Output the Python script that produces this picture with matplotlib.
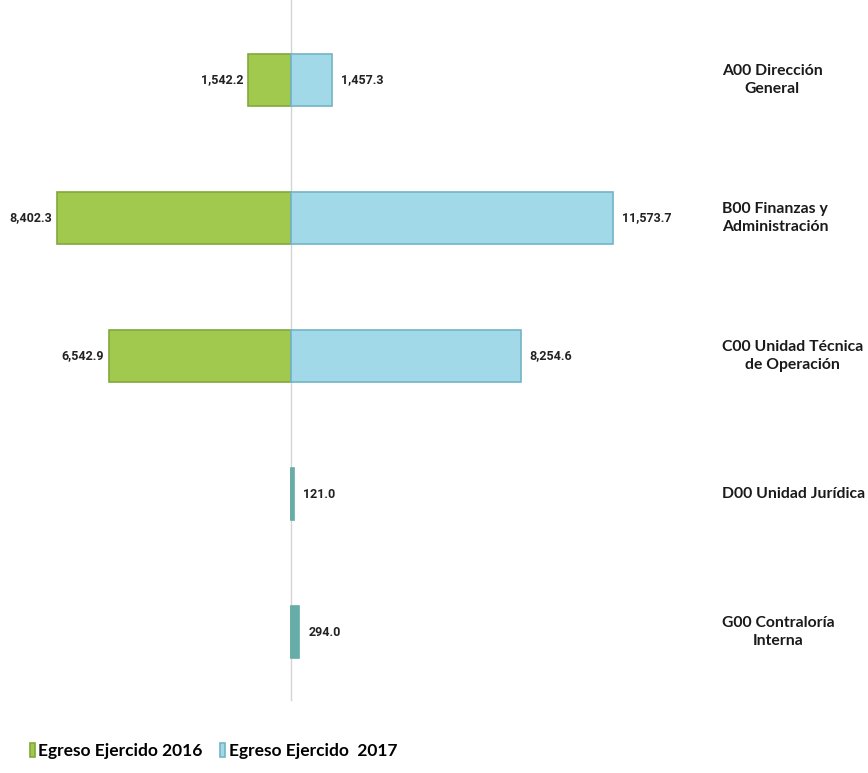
import matplotlib.pyplot as plt
import numpy as np

# data
areas = ["A00 Dirección\nGeneral",
         "B00 Finanzas y\nAdministración",
         "C00 Unidad Técnica\nde Operación",
         "D00 Unidad Jurídica",
         "G00 Contraloría\nInterna"]
egreso_2016 = [1542.2, 8402.3, 6542.9, 0.0, 0.0]
egreso_2017 = [1457.3, 11573.7, 8254.6, 121.0, 294.0]
serie_2016 = "Egreso Ejercido 2016"
serie_2017 = "Egreso Ejercido  2017"

W, H = 868, 773
fig = plt.figure(figsize=(W / 100, H / 100), dpi=100)
ax = fig.add_axes([0, 0, 1, 1])

# pixel geometry of the reference
x0_px = 291.0
px_per_unit = 322.0 / 11573.7
row0_px, row_step = 80.0, 138.0

ax.set_xlim(-x0_px / px_per_unit, (W - x0_px) / px_per_unit)
ax.set_ylim((H - row0_px) / row_step, -row0_px / row_step)
ax.axis("off")

y = np.arange(len(areas))
green, green_edge = "#a0c94e", "#82a83c"
blue, blue_edge = "#a2d9e9", "#72b4c6"
small_blue = "#66aca8"

b16 = ax.barh(y, -np.array(egreso_2016), height=0.38, color=green,
              edgecolor=green_edge, linewidth=1.2, label=serie_2016, zorder=3)
big = [v > 1000 for v in egreso_2017]
b17 = ax.barh(y, egreso_2017, height=0.38,
              color=[blue if g else small_blue for g in big],
              edgecolor=[blue_edge if g else small_blue for g in big],
              linewidth=1.2, label=serie_2017, zorder=3)

# center line
ax.axvline(0, ymin=(H - 700) / H, ymax=1, color="#d4d4d4", lw=1, zorder=1)

val_font = dict(family=["Roboto", "DejaVu Sans"], fontstretch="condensed",
                fontsize=9, fontweight="bold", color="#222222")
for i, (a, b) in enumerate(zip(egreso_2016, egreso_2017)):
    if a > 0:
        ax.text(-a - 5 / px_per_unit, i, f"{a:,.1f}", ha="right", va="center", **val_font)
    ax.text(b + 9 / px_per_unit, i, f"{b:,.1f}", ha="left", va="center", **val_font)

lab_x = (722 - x0_px) / px_per_unit
for i, name in enumerate(areas):
    ax.text(lab_x, i, name, ha="left", va="center", multialignment="center",
            family=["Lato", "DejaVu Sans"], fontsize=11.3, fontweight="bold",
            color="#1a1a1a", linespacing=1.3)

leg = ax.legend(handles=[b16, b17], loc="lower left",
                bbox_to_anchor=(14 / W, -2 / H),
                ncol=2, frameon=False, handlelength=0.3, handleheight=0.85,
                handletextpad=0.2, columnspacing=1.0,
                prop=dict(family=["Lato", "DejaVu Sans"], size=12.5, weight="bold"))
leg.legend_handles[1].set_facecolor(blue)
leg.legend_handles[1].set_edgecolor(blue_edge)

fig.savefig("out.png", dpi=100, facecolor="white")
